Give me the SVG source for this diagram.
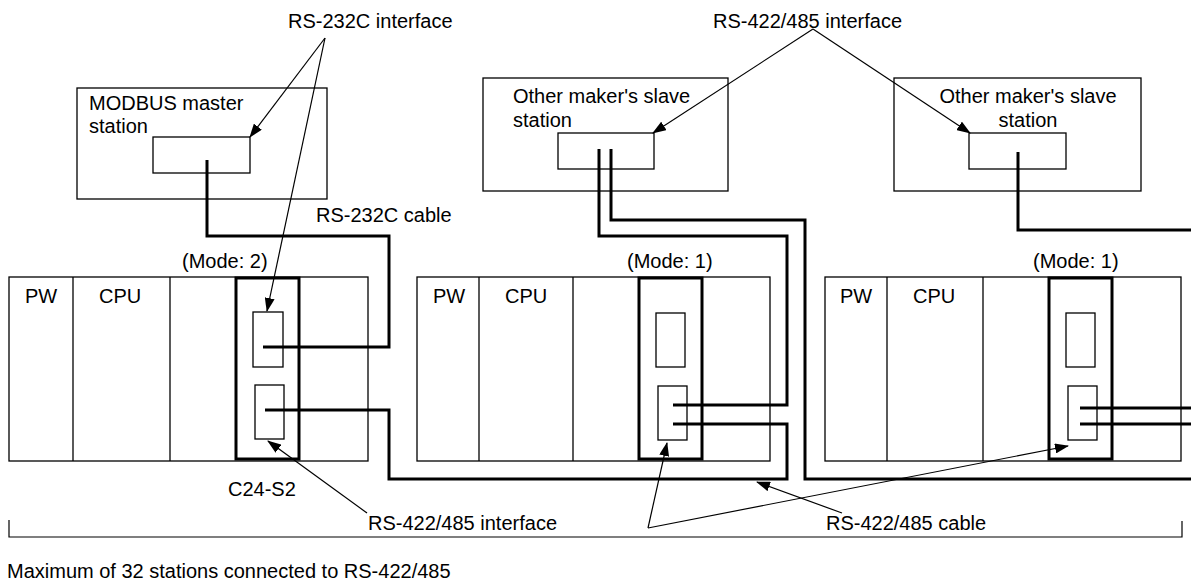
<svg xmlns="http://www.w3.org/2000/svg" width="1191" height="585" viewBox="0 0 1191 585">
<style>
.box{fill:none;stroke:#000;stroke-width:1.3}
.mod{fill:none;stroke:#000;stroke-width:3}
.wire{fill:none;stroke:#000;stroke-width:3;stroke-linejoin:miter;stroke-linecap:butt}
.lead{fill:none;stroke:#000;stroke-width:1.2}
text{font-family:"Liberation Sans",Arial,Helvetica,sans-serif;font-size:20px;fill:#000}
</style>
<defs>
<marker id="ah" markerWidth="14" markerHeight="10" refX="13" refY="5" orient="auto" markerUnits="userSpaceOnUse"><path d="M0,0 L14,5 L0,10 z" fill="#000"/></marker>
</defs>
<rect width="1191" height="585" fill="#fff"/>

<g id="master">
<rect class="box" x="77" y="88" width="250" height="111"/>
<rect class="box" x="153" y="137" width="97" height="36"/>
<text x="89" y="110">MODBUS master</text>
<text x="89" y="133">station</text>
</g>

<g id="slave1">
<rect class="box" x="483" y="78" width="245" height="113"/>
<rect class="box" x="558" y="133" width="96" height="36"/>
<text x="513" y="103">Other maker's slave</text>
<text x="513" y="127">station</text>
</g>

<g id="slave2">
<rect class="box" x="894" y="78" width="247" height="113"/>
<rect class="box" x="969" y="133" width="97" height="36"/>
<text x="1028" y="103" text-anchor="middle">Other maker's slave</text>
<text x="1028" y="127" text-anchor="middle">station</text>
</g>

<g id="rack1">
<rect class="box" x="9" y="277" width="359" height="184"/>
<line class="box" x1="73" y1="277" x2="73" y2="461"/>
<line class="box" x1="170" y1="277" x2="170" y2="461"/>
<rect class="mod" x="236" y="278" width="63" height="181"/>
<rect class="box" x="253" y="312" width="30" height="55"/>
<rect class="box" x="255" y="385" width="29" height="54"/>
<text x="25" y="303">PW</text>
<text x="99" y="303">CPU</text>
<text x="182" y="268">(Mode: 2)</text>
</g>

<g id="rack2">
<rect class="box" x="417" y="277" width="353" height="184"/>
<line class="box" x1="479" y1="277" x2="479" y2="461"/>
<line class="box" x1="573" y1="277" x2="573" y2="461"/>
<rect class="mod" x="639" y="278" width="63" height="181"/>
<rect class="box" x="656" y="313" width="29" height="54"/>
<rect class="box" x="658" y="386" width="29" height="54"/>
<text x="433" y="303">PW</text>
<text x="505" y="303">CPU</text>
<text x="627" y="268">(Mode: 1)</text>
</g>

<g id="rack3">
<rect class="box" x="825" y="277" width="356" height="184"/>
<line class="box" x1="887" y1="277" x2="887" y2="461"/>
<line class="box" x1="983" y1="277" x2="983" y2="461"/>
<rect class="mod" x="1049" y="278" width="63" height="181"/>
<rect class="box" x="1066" y="313" width="29" height="54"/>
<rect class="box" x="1068" y="386" width="29" height="54"/>
<text x="840" y="303">PW</text>
<text x="913" y="303">CPU</text>
<text x="1033" y="268">(Mode: 1)</text>
</g>

<g id="connectors">
<polyline class="wire" points="207,160 207,236 389,236 389,347 263,347"/>
<polyline class="wire" points="265,410 389,410 389,479 787,479 787,424 673,424"/>
<polyline class="wire" points="599,149 599,236 787,236 787,405 673,405"/>
<polyline class="wire" points="611,149 611,220 805,220 805,479 1191,479"/>
<polyline class="wire" points="1018,152 1018,230 1191,230"/>
<line class="wire" x1="1080" y1="408" x2="1191" y2="408"/>
<line class="wire" x1="1080" y1="424" x2="1191" y2="424"/>

<line class="lead" x1="325" y1="38" x2="250" y2="137" marker-end="url(#ah)"/>
<line class="lead" x1="325" y1="38" x2="267" y2="311" marker-end="url(#ah)"/>
<line class="lead" x1="813" y1="29" x2="653" y2="133" marker-end="url(#ah)"/>
<line class="lead" x1="813" y1="29" x2="970" y2="133" marker-end="url(#ah)"/>
<line class="lead" x1="367" y1="513" x2="268" y2="441" marker-end="url(#ah)"/>
<line class="lead" x1="648" y1="528" x2="667" y2="443" marker-end="url(#ah)"/>
<line class="lead" x1="648" y1="528" x2="1068" y2="446" marker-end="url(#ah)"/>
<line class="lead" x1="842" y1="513" x2="757" y2="482" marker-end="url(#ah)"/>
<polyline class="lead" points="9,520 9,537 1182,537 1182,521"/>
</g>

<g id="labels">
<text x="288" y="28">RS-232C interface</text>
<text x="713" y="28">RS-422/485 interface</text>
<text x="316" y="222">RS-232C cable</text>
<text x="228" y="496">C24-S2</text>
<text x="368" y="530">RS-422/485 interface</text>
<text x="826" y="530">RS-422/485 cable</text>
<text x="7" y="578">Maximum of 32 stations connected to RS-422/485</text>
</g>
</svg>
